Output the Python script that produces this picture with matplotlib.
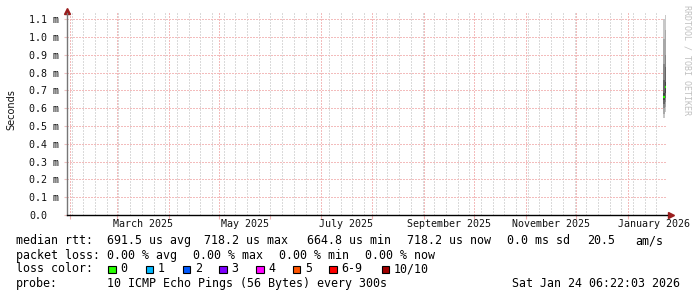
import pandas as pd
import matplotlib
matplotlib.use('Agg')
import matplotlib.pyplot as plt
import matplotlib.dates as mdates
from matplotlib.patches import Rectangle

## figure size in pixels
W, H = 697, 297

## time range shown
x_start = pd.Timestamp('2025-01-30 05:00')
x_end = pd.Timestamp('2026-01-24 08:00')

## daily smoke columns (10 pings each, sorted, in ms)
col_start = pd.to_datetime(['2026-01-22 00:00', '2026-01-23 00:00'])
col_end = pd.to_datetime(['2026-01-23 00:00', '2026-01-24 00:00'])
pings_a = [0.545, 0.570, 0.600, 0.625, 0.645, 0.685, 0.760, 0.850, 0.990, 1.100]
pings_b = [0.579, 0.605, 0.635, 0.660, 0.688, 0.748, 0.832, 0.899, 1.040, 1.124]
median_rtt = [0.6648, 0.7182]

## axis labels
y_ticks = [0.0, 0.1, 0.2, 0.3, 0.4, 0.5, 0.6, 0.7, 0.8, 0.9, 1.0, 1.1]
label_months = ['2025-03', '2025-05', '2025-07', '2025-09', '2025-11', '2026-01']

## legend values
rtt_values = [691.5, 718.2, 664.8, 718.2]
rtt_names = ['avg', 'max', 'min', 'now']
rtt_sd = 0.0
rtt_ams = 20.5
loss_values = [0.00, 0.00, 0.00, 0.00]
loss_labels = ['0', '1', '2', '3', '4', '5', '6-9', '10/10']
loss_colors = ['#26ff00', '#00b8ff', '#0059ff', '#7e00ff', '#ff00ff', '#ff5500', '#ff0000', '#a10000']
probe_text = '10 ICMP Echo Pings (56 Bytes) every 300s'
stamp_text = 'Sat Jan 24 06:22:03 2026'

smoke_shades = ['#c8c8c8', '#a8a8a8', '#888888', '#666666', '#444444']
mono = 'DejaVu Sans Mono'


def fx(px):
    return px / W


def fy(py):
    return 1 - py / H


fig = plt.figure(figsize=(W / 100, H / 100), dpi=100)
fig.patch.set_facecolor('white')

# plot area: x 67..667, y 13..215 (pixels from top)
ax = fig.add_axes([fx(67), fy(215), 600 / W, 202 / H])

# smoke + median for each column
for s, e, pings, med in zip(col_start, col_end, [pings_a, pings_b], median_rtt):
    n = len(pings)
    for k in range(n // 2):
        ax.fill_between([s, e], pings[k], pings[n - 1 - k], color=smoke_shades[k], lw=0, zorder=3)
    ax.hlines(med, s, e, color=loss_colors[0], lw=1.6, zorder=4)

ax.set_xlim(x_start, x_end)
ax.set_ylim(0, 1.135)

# y axis
ax.set_yticks(y_ticks)
ax.set_yticklabels(['0.0' if v == 0 else f'{v:.1f} m' for v in y_ticks])
ax.tick_params(axis='y', length=2, width=0.8, color='#eec0c0', pad=25.2,
               labelsize=7.2, labelcolor='#111111')
for lab in ax.get_yticklabels():
    lab.set_horizontalalignment('left')
    lab.set_family(mono)

# x axis: months major (red), weeks minor (gray)
ax.xaxis.set_major_locator(mdates.MonthLocator())
ax.xaxis.set_minor_locator(mdates.WeekdayLocator(byweekday=mdates.SU))
ax.xaxis.remove_overlapping_locs = False
ax.xaxis.set_major_formatter(plt.NullFormatter())
ax.xaxis.set_minor_formatter(plt.NullFormatter())
ax.tick_params(axis='x', which='major', length=3, width=0.8, color='#f0b0b0')
ax.tick_params(axis='x', which='minor', length=0)

dots = (0, (1, 1))
ax.grid(which='minor', axis='x', color='#dadada', lw=0.75, ls=dots, antialiased=False, zorder=1)
ax.grid(which='major', axis='x', color='#f3bcbc', lw=0.75, ls=dots, antialiased=False, zorder=2)
ax.grid(which='major', axis='y', color='#f3bcbc', lw=0.75, ls=dots, antialiased=False, zorder=2)

for m in label_months:
    m0 = pd.Timestamp(m + '-01')
    mid = m0 + (m0 + pd.offsets.MonthBegin(1) - m0) / 2
    ax.text(mid, -9.3 / 202, m0.strftime('%B %Y'), transform=ax.get_xaxis_transform(),
            ha='center', va='center', family=mono, fontsize=7.2, color='#111111')

for side in ['top', 'right']:
    ax.spines[side].set_visible(False)
ax.spines['left'].set_color('#777777')
ax.spines['bottom'].set_color('black')
ax.spines['left'].set_linewidth(1.0)
ax.spines['bottom'].set_linewidth(1.0)

# axis arrows
ax.plot([0], [1.012], marker='^', ms=4.5, color='#9a1d1d', transform=ax.transAxes, clip_on=False)
ax.plot([1.0067], [0], marker='>', ms=4.5, color='#9a1d1d', transform=ax.transAxes, clip_on=False)

# y label and watermark
fig.text(fx(11), fy(110), 'Seconds', rotation=90, ha='center', va='center',
         family='DejaVu Sans', fontsize=7, color='#111111')
fig.text(fx(687), fy(5), 'RRDTOOL / TOBI OETIKER', rotation=270, ha='center', va='top',
         family=mono, fontsize=6, color='#c0c0c0')

# legend rows
fs = 8.4
row_y = [240.5, 255.3, 269, 283.5]

fig.text(fx(16), fy(row_y[0]), 'median rtt:', family=mono, fontsize=fs, va='center')
rtt_x = [107.3, 204, 307.3, 406.7]
for x, v, nm in zip(rtt_x, rtt_values, rtt_names):
    fig.text(fx(x), fy(row_y[0]), f'{v:.1f} us {nm}', family=mono, fontsize=fs, va='center')
fig.text(fx(507.3), fy(row_y[0]), f'{rtt_sd:.1f} ms sd', family=mono, fontsize=fs, va='center')
fig.text(fx(586.7), fy(row_y[0]), f'{rtt_ams:.1f}', family=mono, fontsize=fs, va='center')
fig.text(fx(635), fy(row_y[0]), 'am/s', family=mono, fontsize=fs, va='center')

fig.text(fx(16), fy(row_y[1]), 'packet loss:', family=mono, fontsize=fs, va='center')
loss_x = [107.3, 193.3, 279.3, 365]
for x, v, nm in zip(loss_x, loss_values, rtt_names):
    fig.text(fx(x), fy(row_y[1]), f'{v:.2f} % {nm}', family=mono, fontsize=fs, va='center')

fig.text(fx(16), fy(row_y[2]), 'loss color:', family=mono, fontsize=fs, va='center')
box_x = [108.3, 145.7, 182.7, 219.3, 256, 292.7, 329.3, 381.7]
for x, lab, c in zip(box_x, loss_labels, loss_colors):
    fig.add_artist(Rectangle((fx(x), fy(row_y[2] + 4)), 7.5 / W, 7.5 / H, transform=fig.transFigure,
                             facecolor=c, edgecolor='black', lw=0.8))
    fig.text(fx(x + 12.4), fy(row_y[2]), lab, family=mono, fontsize=fs, va='center')

fig.text(fx(16), fy(row_y[3]), 'probe:', family=mono, fontsize=fs, va='center')
fig.text(fx(107.3), fy(row_y[3]), probe_text, family=mono, fontsize=fs, va='center')
fig.text(fx(680.5), fy(row_y[3]), stamp_text, family=mono, fontsize=fs, va='center', ha='right')

fig.savefig('out.png', dpi=100)
